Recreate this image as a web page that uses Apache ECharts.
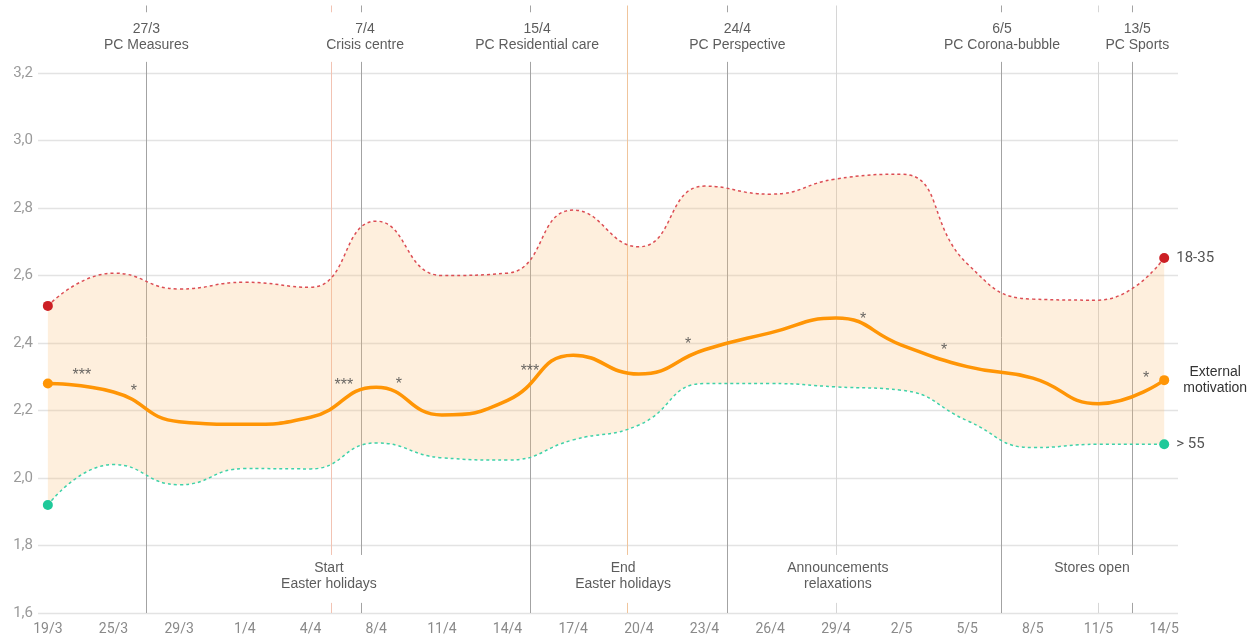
<!DOCTYPE html>
<html>
<head>
<meta charset="utf-8">
<script src="https://cdn.jsdelivr.net/npm/echarts@6/dist/echarts.min.js"></script>
<style>
  html, body { margin: 0; padding: 0; background: #fff; }
  #chart { width: 1255px; height: 637px; }
</style>
</head>
<body>
<div id="chart"></div>
<script>
// survey waves (x axis)
var categories = ['19/3','25/3','29/3','1/4','4/4','8/4','11/4','14/4','17/4','20/4','23/4','26/4','29/4','2/5','5/5','8/5','11/5','14/5'];
// External motivation, total
var externalMotivation = [2.28,2.255,2.167,2.159,2.18,2.269,2.187,2.23,2.364,2.308,2.38,2.43,2.474,2.394,2.33,2.296,2.22,2.29];
// 18-35
var young = [2.51,2.607,2.56,2.58,2.565,2.761,2.60,2.607,2.794,2.685,2.865,2.841,2.886,2.90,2.635,2.53,2.527,2.652];
// > 55
var old = [1.92,2.04,1.98,2.028,2.027,2.104,2.06,2.053,2.113,2.157,2.28,2.28,2.27,2.26,2.17,2.09,2.10,2.10];
var yTicks = [1.6,1.8,2.0,2.2,2.4,2.6,2.8,3.0,3.2];

// events: position on the wave axis (index), line colour, gaps for labels
var events = [
    {x: 1.5,   color: '#a3a3a3', gapTop: true,  gapBottom: false},
    {x: 4.311, color: '#f2c3b3', gapTop: true,  gapBottom: true},
    {x: 4.768, color: '#a3a3a3', gapTop: true,  gapBottom: true},
    {x: 7.342, color: '#a3a3a3', gapTop: true,  gapBottom: false},
    {x: 8.82,  color: '#f0c59c', gapTop: false, gapBottom: true},
    {x: 10.343,color: '#a3a3a3', gapTop: true,  gapBottom: false},
    {x: 12.0,  color: '#d6d6d6', gapTop: false, gapBottom: true},
    {x: 14.517,color: '#a3a3a3', gapTop: true,  gapBottom: false},
    {x: 16.0,  color: '#d6d6d6', gapTop: true,  gapBottom: true},
    {x: 16.513,color: '#a3a3a3', gapTop: true,  gapBottom: true}
];
var topNotes = [
    {name: '27/3\nPC Measures', x: 1.5},
    {name: '7/4\nCrisis centre', x: 4.83},
    {name: '15/4\nPC Residential care', x: 7.45},
    {name: '24/4\nPC Perspective', x: 10.5},
    {name: '6/5\nPC Corona-bubble', x: 14.53},
    {name: '13/5\nPC Sports', x: 16.59}
];
var bottomNotes = [
    {name: 'Start\nEaster holidays', x: 4.28, y: 1.708},
    {name: 'End\nEaster holidays', x: 8.76, y: 1.708},
    {name: 'Announcements\nrelaxations', x: 12.03, y: 1.708},
    {name: 'Stores open', x: 15.9, y: 1.733}
];
// significance stars
var stars = [
    {name: '***', x: 0.518, y: 2.304},
    {name: '*',   x: 1.31,  y: 2.257},
    {name: '***', x: 4.509, y: 2.275},
    {name: '*',   x: 5.347, y: 2.278},
    {name: '***', x: 7.342, y: 2.316},
    {name: '*',   x: 9.749, y: 2.396},
    {name: '*',   x: 12.415,y: 2.470},
    {name: '*',   x: 13.649,y: 2.378},
    {name: '*',   x: 16.726,y: 2.295}
];

function endDot(value, params) {
    return (params.dataIndex === 0 || params.dataIndex === categories.length - 1) ? 10 : 0;
}

// vertical event lines with gaps where labels sit
var lineData = [];
events.forEach(function (e) {
    var st = {color: e.color, width: 1, type: 'solid'};
    var top = 3.4, bottom = 1.6;
    if (e.gapTop) {
        lineData.push([{coord: [e.x, 3.4], lineStyle: st}, {coord: [e.x, 3.38]}]);
        top = 3.233;
    }
    if (e.gapBottom) {
        lineData.push([{coord: [e.x, 1.63], lineStyle: st}, {coord: [e.x, 1.6]}]);
        bottom = 1.772;
    }
    lineData.push([{coord: [e.x, top], lineStyle: st}, {coord: [e.x, bottom]}]);
});

var smooth = 0.5;
var noteFont = 'Liberation Sans';
var myChart = echarts.init(document.getElementById('chart'));
var options = {
    animation: false,
    grid: [
        // frame with grid lines and annotations
        {left: 38, right: 77, top: 5.5, bottom: 24},
        // data area: first and last wave sit 10px inside the grid lines
        {left: 47.85, right: 90.8, top: 5.5, bottom: 24}
    ],
    xAxis: [
        {
            gridIndex: 0, type: 'value', min: -0.15, max: 17.21,
            show: false
        },
        {
            gridIndex: 1, type: 'category', boundaryGap: false, data: categories,
            axisLine: {show: false},
            axisTick: {show: false},
            splitLine: {show: false},
            axisLabel: {color: '#8a8a8a', fontFamily: 'Roboto', fontSize: 14, margin: 9, interval: 0}
        }
    ],
    yAxis: [
        {
            gridIndex: 0, type: 'value', min: 1.6, max: 3.4, interval: 0.2,
            axisLine: {show: false},
            axisTick: {show: false},
            splitLine: {lineStyle: {
                color: ['#e3e3e3','#e3e3e3','#e3e3e3','#e3e3e3','#e3e3e3','#e3e3e3','#e3e3e3','#e3e3e3','#e3e3e3','rgba(0,0,0,0)'],
                width: 1.3
            }},
            axisLabel: {
                customValues: yTicks,
                formatter: function (v) { return v.toFixed(1).replace('.', ','); },
                color: '#9a9a9a', fontFamily: 'Roboto', fontSize: 15, margin: 5
            }
        },
        {
            gridIndex: 1, type: 'value', min: 1.6, max: 3.4, show: false
        }
    ],
    series: [
        {
            // event lines, under the band
            type: 'line',
            xAxisIndex: 0, yAxisIndex: 0,
            data: [],
            z: 1,
            markLine: {silent: true, symbol: 'none', label: {show: false}, z: 1, data: lineData}
        },
        {
            name: '> 55',
            type: 'line',
            xAxisIndex: 1, yAxisIndex: 1,
            stack: 'band',
            smooth: smooth,
            data: old,
            symbol: 'circle',
            symbolSize: endDot,
            showAllSymbol: true,
            itemStyle: {color: '#1fc99a'},
            lineStyle: {color: '#3fd2a8', width: 1.5, type: [3, 3]},
            endLabel: {show: true, formatter: '> 55', color: '#555', fontFamily: 'Roboto', fontSize: 15, distance: 12},
            z: 4
        },
        {
            name: 'band',
            type: 'line',
            xAxisIndex: 1, yAxisIndex: 1,
            stack: 'band',
            smooth: smooth,
            data: young.map(function (v, i) { return +(v - old[i]).toFixed(3); }),
            symbol: 'none',
            lineStyle: {opacity: 0},
            areaStyle: {color: 'rgba(250,190,120,0.36)'},
            z: 2
        },
        {
            name: '18-35',
            type: 'line',
            xAxisIndex: 1, yAxisIndex: 1,
            smooth: smooth,
            data: young,
            symbol: 'circle',
            symbolSize: endDot,
            showAllSymbol: true,
            itemStyle: {color: '#cc1f24'},
            lineStyle: {color: '#dc4d54', width: 1.5, type: [3, 3]},
            endLabel: {show: true, formatter: '18-35', color: '#555', fontFamily: 'Roboto', fontSize: 15, distance: 12},
            z: 4
        },
        {
            name: 'External motivation',
            type: 'line',
            xAxisIndex: 1, yAxisIndex: 1,
            smooth: smooth,
            data: externalMotivation,
            symbol: 'circle',
            symbolSize: endDot,
            showAllSymbol: true,
            itemStyle: {color: '#ff9505'},
            lineStyle: {color: '#ff9505', width: 3.5},
            endLabel: {
                show: true, formatter: 'External\nmotivation', color: '#333',
                fontFamily: noteFont, fontSize: 14, lineHeight: 16,
                align: 'center', distance: 51
            },
            z: 5
        },
        {
            name: 'stars',
            type: 'scatter',
            xAxisIndex: 0, yAxisIndex: 0,
            symbolSize: 0,
            silent: true,
            data: stars.map(function (s) { return {name: s.name, value: [s.x, s.y]}; }),
            label: {show: true, position: 'inside', formatter: '{b}', color: '#444', fontSize: 16, fontFamily: noteFont},
            z: 6
        },
        {
            name: 'topNotes',
            type: 'scatter',
            xAxisIndex: 0, yAxisIndex: 0,
            symbolSize: 0,
            silent: true,
            data: topNotes.map(function (s) { return {name: s.name, value: [s.x, 3.307]}; }),
            label: {show: true, position: 'inside', formatter: '{b}', color: '#333', fontSize: 14, lineHeight: 16, fontFamily: noteFont},
            z: 6
        },
        {
            name: 'bottomNotes',
            type: 'scatter',
            xAxisIndex: 0, yAxisIndex: 0,
            symbolSize: 0,
            silent: true,
            data: bottomNotes.map(function (s) { return {name: s.name, value: [s.x, s.y]}; }),
            label: {show: true, position: 'inside', formatter: '{b}', color: '#333', fontSize: 14, lineHeight: 16, fontFamily: noteFont},
            z: 6
        }
    ]
};
myChart.setOption(options);
</script>
</body>
</html>
